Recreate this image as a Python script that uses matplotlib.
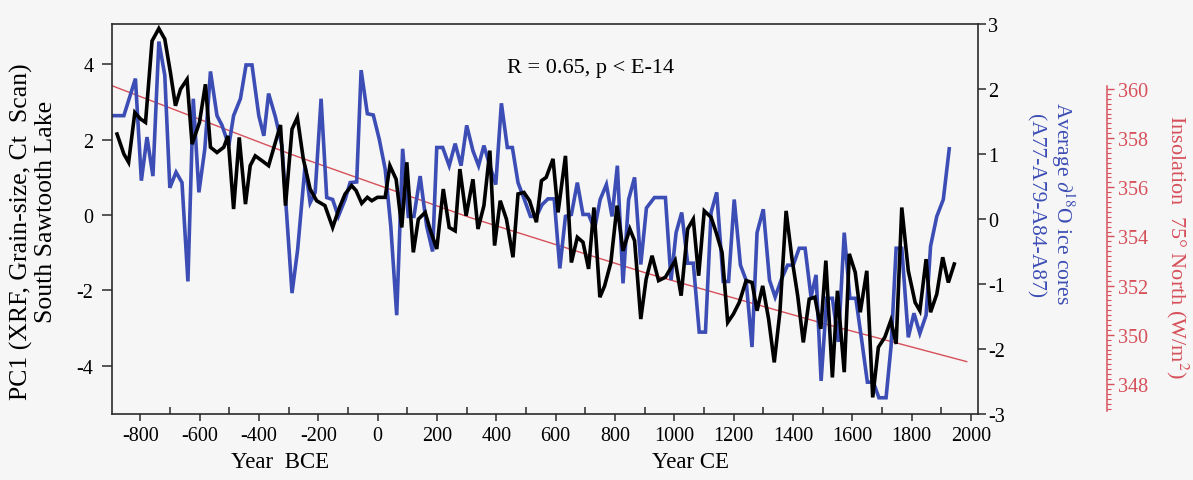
import numpy as np
import matplotlib
matplotlib.use("Agg")
import matplotlib.pyplot as plt
from matplotlib.ticker import FixedLocator

# PC1 (black), left axis
pc1_year = [-879, -856, -840, -819, -800, -783, -761, -738, -718, -699, -682, -665, -643, -626,
            -601, -581, -564, -542, -519, -505, -486, -467, -446, -430, -413, -390, -368, -345,
            -328, -311, -289, -271, -251, -228, -206, -178, -152, -129, -110, -88, -73, -54, -35,
            -20, -1, 25, 41, 62, 81, 98, 120, 137, 160, 176, 199, 221, 241, 261, 277, 298, 321,
            338, 358, 378, 394, 413, 434, 456, 473, 493, 512, 535, 552, 568, 591, 608, 633, 653,
            673, 692, 711, 729, 749, 765, 786, 807, 827, 850, 866, 887, 905, 925, 947, 970, 1003,
            1023, 1045, 1064, 1082, 1101, 1124, 1141, 1161, 1180, 1199, 1219, 1242, 1262, 1279,
            1298, 1318, 1337, 1356, 1377, 1397, 1416, 1435, 1455, 1474, 1494, 1511, 1533, 1550,
            1573, 1590, 1610, 1627, 1649, 1669, 1688, 1710, 1730, 1748, 1767, 1789, 1812, 1828,
            1849, 1864, 1885, 1905, 1924, 1944]
pc1_val = [2.15, 1.62, 1.40, 2.72, 2.55, 2.46, 4.62, 4.95, 4.67, 3.78, 2.90, 3.34, 3.60, 1.88,
           2.46, 3.47, 1.80, 1.66, 1.80, 2.10, 0.16, 2.06, 0.29, 1.31, 1.57, 1.44, 1.31, 1.93,
           2.39, 0.25, 2.28, 2.59, 1.49, 0.69, 0.38, 0.25, -0.33, 0.20, 0.56, 0.78, 0.65, 0.31, 0.47,
           0.38, 0.47, 0.47, 1.31, 0.95, -0.33, 1.40, -0.99, -0.11, 0.07, -0.37, -0.90, 0.69, -0.33,
           -0.42, 1.22, -0.02, 0.95, -0.37, 0.25, 1.71, -0.81, 0.38, -0.11, -1.12, 0.56, 0.60, 0.38,
           -0.19, 0.91, 1.00, 1.49, 0.07, 1.57, -1.26, -0.59, -0.72, -1.43, 0.20, -2.18, -1.88,
           -1.26, 0.25, -0.95, -0.37, -0.68, -2.76, -1.70, -1.08, -1.74, -1.65, -1.21, -2.14, -0.37,
           -0.11, -1.61, 0.11, -0.06, -0.46, -0.99, -2.85, -2.63, -2.32, -1.74, -1.79, -2.54, -1.88,
           -2.76, -3.91, -2.58, 0.11, -1.17, -2.14, -3.38, -2.23, -2.18, -3.02, -1.21, -4.31, -2.01,
           -4.17, -1.03, -1.52, -2.58, -1.48, -4.84, -3.51, -3.24, -2.80, -3.42, 0.20, -1.48, -2.32,
           -2.54, -1.17, -2.58, -2.10, -1.12, -1.79, -1.30]

# Average d18O ice cores (blue), right axis
d18o_year = [-896, -856, -817, -797, -778, -758, -738, -718, -701, -680, -660, -640, -622, -603,
             -583, -564, -542, -525, -502, -486, -463, -444, -424, -401, -384, -368, -345, -323,
             -289, -270, -245, -228, -211, -191, -172, -152, -133, -110, -93, -71, -56, -35, -15,
             5, 25, 44, 64, 84, 103, 122, 143, 165, 185, 199, 219, 241, 261, 281, 300, 321, 340,
             358, 378, 398, 417, 437, 454, 473, 496, 515, 535, 554, 574, 595, 614, 633, 653, 673,
             692, 711, 731, 750, 771, 790, 808, 827, 846, 866, 887, 906, 933, 970, 989, 1006, 1025,
             1045, 1064, 1084, 1105, 1124, 1143, 1165, 1183, 1202, 1223, 1242, 1262, 1279, 1300,
             1321, 1340, 1360, 1382, 1401, 1421, 1441, 1461, 1478, 1495, 1514, 1533, 1553, 1573,
             1592, 1612, 1632, 1651, 1671, 1690, 1714, 1731, 1748, 1767, 1789, 1808, 1828, 1849,
             1864, 1885, 1907, 1927]
d18o_val = [1.59, 1.59, 2.16, 0.59, 1.26, 0.66, 2.73, 2.21, 0.48, 0.72, 0.56, -0.96, 1.85, 0.41,
            1.08, 2.27, 1.59, 1.44, 1.13, 1.59, 1.85, 2.37, 2.37, 1.59, 1.28, 1.93, 1.57, 1.13,
            -1.14, -0.47, 0.82, 0.25, 0.41, 1.85, 0.33, 0.30, 0.04, 0.30, 0.56, 0.57, 2.29, 1.62,
            1.60, 1.23, 0.77, -0.11, -1.48, 1.08, 0.04, 0.04, 0.66, -0.11, -0.50, 1.10, 1.10, 0.82,
            1.16, 0.82, 1.44, 1.05, 0.82, 1.13, 0.82, 0.53, 1.78, 1.10, 1.10, 0.56, 0.28, 0.04, 0.04,
            0.22, 0.31, 0.31, -0.76, 0.04, 0.07, 0.56, 0.07, 0.07, -0.16, 0.30, 0.53, 0.04, 0.82,
            -0.99, 0.30, 0.64, -0.70, 0.17, 0.33, 0.33, -0.94, -0.21, 0.10, -0.68, -0.68, -1.74,
            -1.74, 0.10, 0.41, -0.96, -0.96, 0.30, -0.71, -0.94, -1.97, -0.21, 0.15, -0.94, -1.20,
            -0.94, -0.71, -0.71, -0.45, -0.45, -1.20, -0.86, -2.49, -1.22, -1.22, -1.89, -0.21,
            -1.22, -1.22, -1.87, -2.51, -2.51, -2.75, -2.75, -1.95, -0.45, -0.45, -1.82, -1.45,
            -1.76, -1.48, -0.42, 0.04, 0.30, 1.08]

# Insolation 75N (red)
insol_year = [-896, -292, 311, 908, 1512, 1986]
insol_val = [360.13, 357.34, 354.77, 352.5, 350.43, 348.91]

BLUE = "#3c4db5"
RED = "#d6505a"
BG = "#f6f6f6"

plt.rcParams["font.family"] = ["Liberation Serif", "DejaVu Serif"]
plt.rcParams["mathtext.fontset"] = "stix"
plt.rcParams["axes.unicode_minus"] = False

W, H = 1193, 481
fig = plt.figure(figsize=(W / 100, H / 100), dpi=100, facecolor=BG)
rect = [112 / W, 1 - 415 / H, (978 - 112) / W, (415 - 25) / H]
ax = fig.add_axes(rect)
ax2 = ax.twinx()
ax3 = ax.twinx()

# stacking: red at the bottom, then blue, black on top
ax3.set_zorder(1)
ax2.set_zorder(2)
ax.set_zorder(3)
for a in (ax, ax2, ax3):
    a.patch.set_visible(False)

ax3.plot(insol_year, insol_val, color=RED, lw=1.0)
ax2.plot(d18o_year, d18o_val, color=BLUE, lw=2.6, solid_joinstyle="miter")
ax.plot(pc1_year, pc1_val, color="black", lw=2.6, solid_joinstyle="miter")

ax.set_xlim(-896, 2024)
ax.set_ylim(-5.28, 5.07)
ax2.set_ylim(-3, 3)
ax3.set_ylim(346.78, 362.64)

spine_c = "#2a2a2a"
for s in ax.spines.values():
    s.set_linewidth(1.2)
    s.set_color(spine_c)
for s in ax2.spines.values():
    s.set_visible(False)
for s in ax3.spines.values():
    s.set_visible(False)

# x axis: labelled ticks point out, the ones between point in
ax.set_xticks(np.arange(-800, 2001, 200))
ax.xaxis.set_minor_locator(FixedLocator(np.arange(-700, 2000, 200)))
ax.tick_params(axis="x", which="major", direction="out", length=5, width=1.1,
               color=spine_c, labelsize=14.5, pad=4)
ax.tick_params(axis="x", which="minor", direction="in", length=5, width=1.1, color=spine_c)

ax.set_yticks([-4, -2, 0, 2, 4])
ax.tick_params(axis="y", direction="out", length=7.5, width=1.1, color=spine_c,
               labelsize=14.5, pad=6)

ax2.set_yticks([-3, -2, -1, 0, 1, 2, 3])
ax2.tick_params(axis="y", direction="out", length=5.5, width=1.1, color=spine_c,
                labelsize=14.5, pad=2)

# insolation axis: 129 px right of the frame (outward is in points)
ax3.spines["right"].set_visible(True)
ax3.spines["right"].set_position(("outward", 129 * 0.72))
ax3.spines["right"].set_bounds(346.9, 360.1)
ax3.spines["right"].set_color(RED)
ax3.spines["right"].set_linewidth(1.1)
ax3.set_yticks(np.arange(348, 361, 2))
ax3.yaxis.set_minor_locator(FixedLocator(np.arange(347.0, 360.05, 0.2)))
ax3.tick_params(axis="y", which="major", direction="out", length=5, width=1.0,
                color=RED, labelcolor=RED, labelsize=14.5, pad=3)
ax3.tick_params(axis="y", which="minor", direction="out", length=3, width=0.8, color=RED)

# axis titles
fig.text(21 / W, 1 - 232 / H, "PC1 (XRF, Grain-size, Ct  Scan)", rotation=90,
         ha="center", va="center", fontsize=18.5)
fig.text(46 / W, 1 - 212 / H, "South Sawtooth Lake", rotation=90,
         ha="center", va="center", fontsize=18.5)
fig.text(280 / W, 1 - 463 / H, "Year  BCE", ha="center", va="center", fontsize=16.5)
fig.text(690 / W, 1 - 463 / H, "Year CE", ha="center", va="center", fontsize=16.5)
fig.text(1063 / W, 1 - 203 / H, r"Average $\partial^{18}$O ice cores", rotation=270,
         ha="center", va="center", fontsize=15.5, color=BLUE)
fig.text(1035 / W, 1 - 206 / H, "(A77-A79-A84-A87)", rotation=270,
         ha="center", va="center", fontsize=15.5, color=BLUE)
fig.text(1177 / W, 1 - 247 / H, r"Insolation  75° North (W/m$^{2}$)", rotation=270,
         ha="center", va="center", fontsize=16, color=RED)

fig.text(591 / W, 1 - 68 / H, "R = 0.65, p < E-14", ha="center", va="center", fontsize=16)

fig.savefig("out.png", dpi=100, facecolor=BG)
